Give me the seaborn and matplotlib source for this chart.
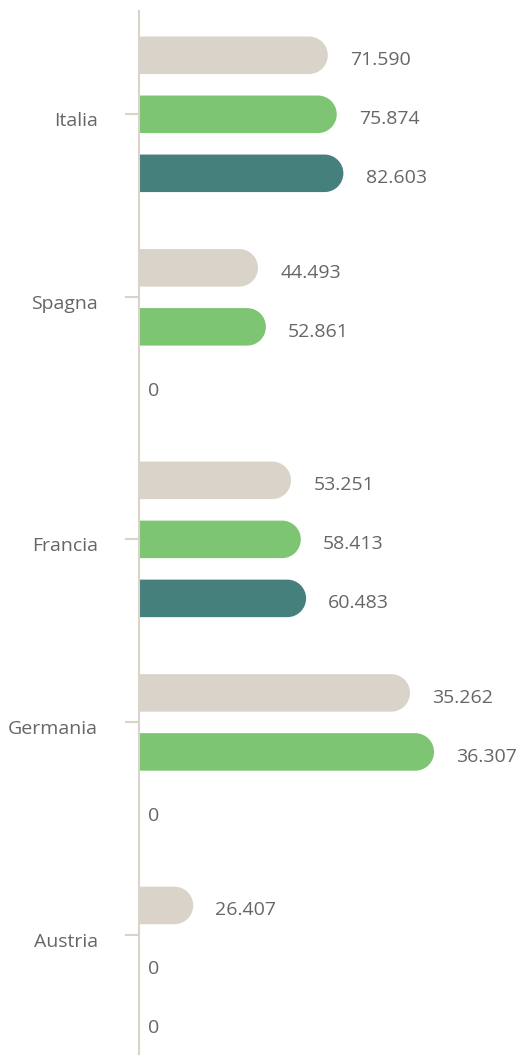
import pandas as pd
import seaborn as sns
import matplotlib.pyplot as plt
from matplotlib.path import Path
from matplotlib.patches import PathPatch
from matplotlib.transforms import ScaledTranslation

# Data
countries = ['Italia', 'Spagna', 'Francia', 'Germania', 'Austria']
series = ['Serie 1', 'Serie 2', 'Serie 3']

# values shown in the labels (None = no value, printed as 0)
serie1_values = [71590, 44493, 53251, 35262, 26407]
serie2_values = [75874, 52861, 58413, 36307, 0]
serie3_values = [82603, None, 60483, None, None]

# drawn bar lengths (the original bars don't follow the labels linearly)
serie1_bars = [71.6, 45.2, 57.7, 102.7, 20.7]
serie2_bars = [75.0, 48.2, 61.4, 111.8, 0]
serie3_bars = [77.5, 0, 63.4, 0, 0]

colors = ['#d9d3c9', '#7dc573', '#46807c']
text_color = '#666666'
axis_color = '#d9d3c9'

values = [serie1_values, serie2_values, serie3_values]
bars = [serie1_bars, serie2_bars, serie3_bars]

rows = []
for s, name in enumerate(series):
    for c, country in enumerate(countries):
        rows.append({'country': country, 'serie': name, 'length': bars[s][c]})
df = pd.DataFrame(rows)

sns.set_style('white')
plt.rcParams['font.family'] = ['Open Sans', 'DejaVu Sans']

fig = plt.figure(figsize=(5.16, 10.55), dpi=100)
ax = fig.add_axes([138.5 / 516, 0, 1 - 138.5 / 516, 1044 / 1055])

sns.barplot(data=df, y='country', x='length', hue='serie', orient='h',
            palette=colors, width=0.833, gap=0.364, legend=False,
            saturation=1, ax=ax)

ax.set_xlim(0, 142.8)
ax.set_ylim(4.426, -0.486)

# pixels per data unit, to get circular round caps
p0 = ax.transData.transform((0, 0))
px_x = ax.transData.transform((1, 0))[0] - p0[0]
px_y = abs(ax.transData.transform((0, 1))[1] - p0[1])


def capsule(w, yc, h):
    # bar with a half-circle at its right end
    ry = h / 2
    rx = ry * px_y / px_x
    arc = Path.arc(-90, 90)
    verts = [(0, yc - ry)]
    codes = [Path.MOVETO]
    for i, (vx, vy) in enumerate(arc.vertices):
        verts.append((w - rx + vx * rx, yc + vy * ry))
        codes.append(Path.LINETO if i == 0 else arc.codes[i])
    verts += [(0, yc + ry), (0, yc - ry)]
    codes += [Path.LINETO, Path.CLOSEPOLY]
    return Path(verts, codes)


centers = [[] for _ in countries]
for s, container in enumerate(ax.containers):
    for c, bar in enumerate(container):
        y, h, w = bar.get_y(), bar.get_height(), bar.get_width()
        yc = y + h / 2
        bar.set_visible(False)
        if values[s][c] is not None:
            centers[c].append(yc)
        if w > 0:
            ax.add_patch(PathPatch(capsule(w, yc, h), facecolor=colors[s],
                                   edgecolor='none', zorder=2))
        v = values[s][c]
        label = '0' if not v else f'{v:,}'.replace(',', '.')
        dx = 16 if w > 0 else 7
        ax.annotate(label, xy=(w, yc), xytext=(dx, -3.5),
                    textcoords='offset points', ha='left', va='center',
                    fontsize=14, color=text_color)

ticks = [sum(c) / len(c) for c in centers]
ax.set_yticks(ticks, labels=countries)
ax.set_xticks([])
ax.set_xlabel('')
ax.set_ylabel('')

for side in ['top', 'right', 'bottom']:
    ax.spines[side].set_visible(False)
ax.spines['left'].set_color(axis_color)
ax.spines['left'].set_linewidth(1.5)
ax.spines['left'].set_zorder(3)
ax.tick_params(axis='y', length=10, width=1.5, color=axis_color,
               pad=19, labelsize=14, labelcolor=text_color, left=True)

shift = ScaledTranslation(0, -5 / 100, fig.dpi_scale_trans)
for lbl in ax.get_yticklabels():
    lbl.set_transform(lbl.get_transform() + shift)

fig.savefig('out.png', dpi=100)
